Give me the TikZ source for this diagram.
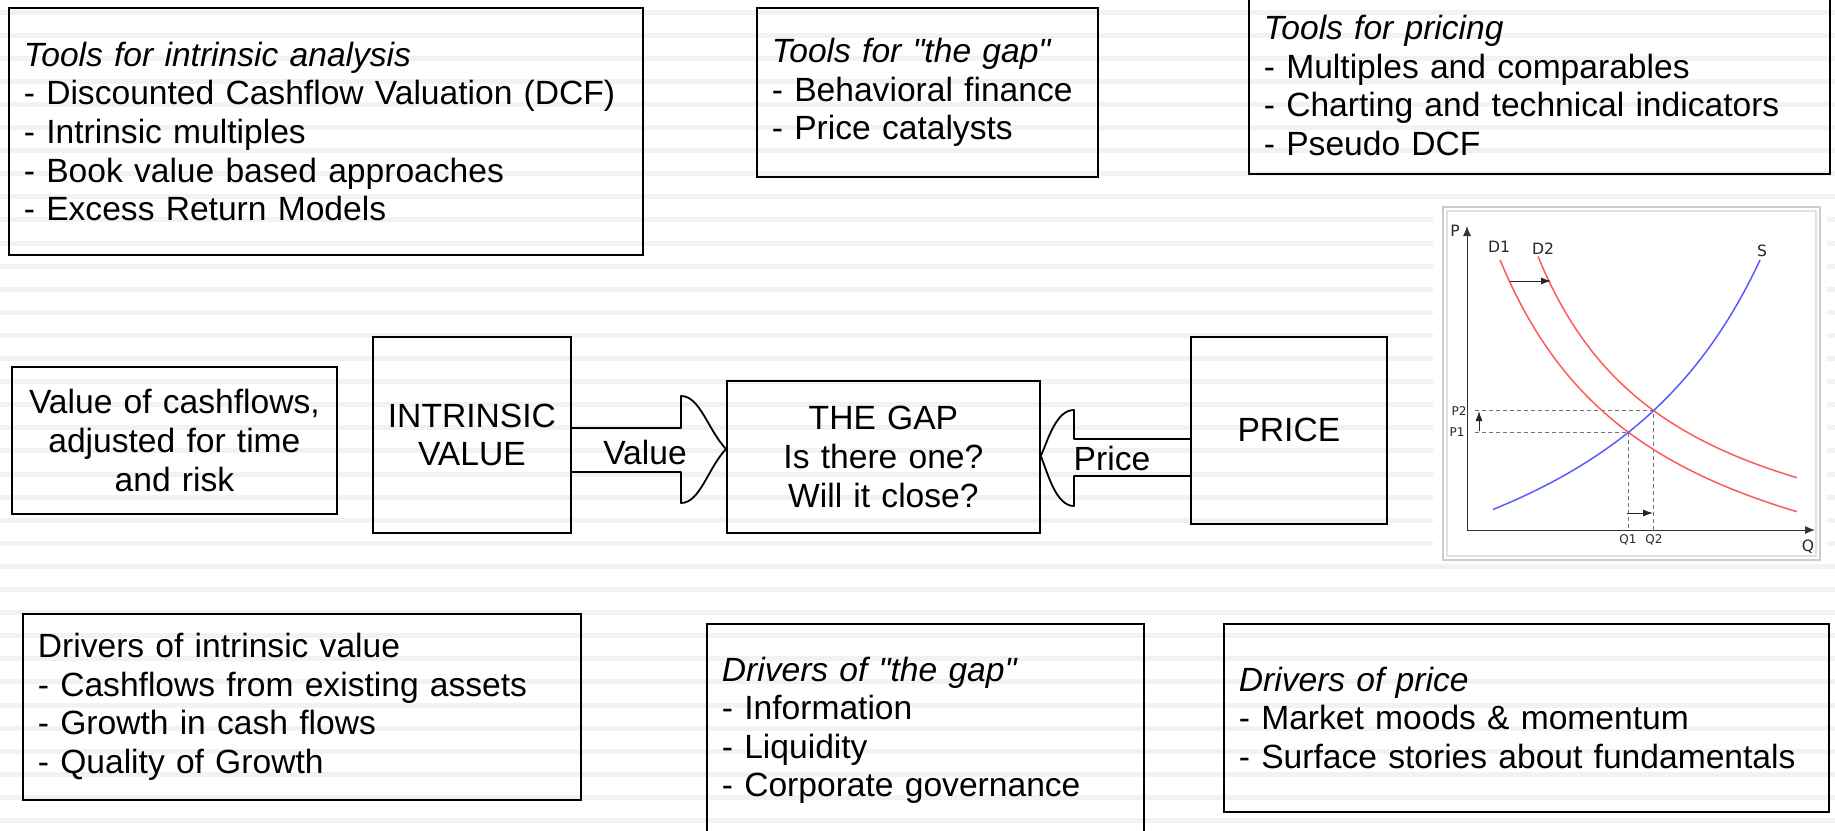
\documentclass[tikz,border=0pt]{standalone}
\usepackage{fontspec}
\setmainfont{Liberation Sans}[Ligatures=TeXOff]
\newfontfamily\chartfont{DejaVu Sans}
\usepackage{tikz}
\usetikzlibrary{arrows.meta,positioning,calc}
\definecolor{stripegray}{HTML}{F2F2F2}
\definecolor{curvered}{HTML}{FF5A5A}
\definecolor{curveblue}{HTML}{5A5AFF}
\tikzset{
  box/.style={draw=black, line width=0.9pt, anchor=north west, inner xsep=7.5pt,
    align=left, font=\fontsize{16.8}{19.3}\selectfont},
  cbox/.style={box, align=center},
  blockarrow/.style={draw=black, line width=0.9pt, line join=round},
  arrlbl/.style={font=\fontsize{16.8}{19.3}\selectfont, inner sep=0pt},
  axis/.style={draw=black!80, line width=0.5pt, -{Latex[length=5pt,width=4pt]}},
  moveflow/.style={draw=black!85, line width=0.5pt, -{Latex[length=5pt,width=3.5pt]}},
  guide/.style={draw=black!55, line width=0.4pt, dash pattern=on 2pt off 1.5pt},
  demand/.style={draw=curvered, line width=0.75pt},
  supply/.style={draw=curveblue, line width=0.75pt},
  clbl/.style={font=\chartfont\fontsize{7.8}{8}\selectfont, text=black!85, inner sep=0pt},
  slbl/.style={font=\chartfont\fontsize{6}{6}\selectfont, text=black!85, inner sep=0pt}
}

\begin{document}
\begin{tikzpicture}[x=0.5pt, y=-0.5pt]
  \useasboundingbox (0,0) rectangle (1835,830);
  \foreach \i in {0,...,35}
    \fill[stripegray] (0,{12+23.1*\i-2.5}) rectangle (1835,{12+23.1*\i+2.5});

  % tools
  \node[box, text width=302pt, minimum height=123.5pt] (toolsintr) at (8,7)
    {\textit{Tools for intrinsic analysis}\\- Discounted Cashflow Valuation (DCF)\\
     - Intrinsic multiples\\- Book value based approaches\\- Excess Return Models};
  \node[box, text width=155.5pt, minimum height=84.5pt] (toolsgap) at (756,7)
    {\textit{Tools for "the gap"}\\- Behavioral finance\\- Price catalysts};
  \node[box, text width=275.5pt, minimum height=88.5pt] (toolsprice) at (1248,-4)
    {\textit{Tools for pricing}\\- Multiples and comparables\\
     - Charting and technical indicators\\- Pseudo DCF};

  % middle row
  \node[cbox, text width=147.5pt, minimum height=73.5pt] (cashvalue) at (11,366)
    {Value of cashflows,\\adjusted for time\\and risk};
  \node[cbox, text width=84pt, minimum height=98pt] (intrinsic) at (372,336)
    {INTRINSIC\\VALUE};
  \node[cbox, text width=141.5pt, minimum height=76pt] (gap) at (726,380)
    {THE GAP\\Is there one?\\Will it close?};
  \node[cbox, text width=83pt, minimum height=93.5pt] (price) at (1190,336)
    {PRICE};

  \draw[blockarrow] (intrinsic.east |- 0,428) -- (681,428) -- (681,396)
    .. controls (700,396) and (708,430) .. (gap.west |- 0,449)
    .. controls (708,468) and (700,503) .. (681,503) -- (681,472)
    -- (intrinsic.east |- 0,472);
  \draw[blockarrow] (price.west |- 0,439) -- (1074,439) -- (1074,410)
    .. controls (1056,410) and (1048,440) .. (gap.east |- 0,456)
    .. controls (1048,474) and (1056,506) .. (1074,506) -- (1074,476)
    -- (price.west |- 0,476);
  \node[arrlbl] (valuelbl) at (645,452) {Value};
  \node[arrlbl] (pricelbl) at (1112,458) {Price};

  % drivers
  \node[box, text width=264pt, minimum height=93pt] (drvintr) at (22,613)
    {Drivers of intrinsic value\\- Cashflows from existing assets\\
     - Growth in cash flows\\- Quality of Growth};
  \node[box, text width=203.5pt, minimum height=106.5pt] (drvgap) at (706,623)
    {\textit{Drivers of "the gap"}\\- Information\\- Liquidity\\- Corporate governance};
  \node[box, text width=287.5pt, minimum height=94pt] (drvprice) at (1223,623)
    {\textit{Drivers of price}\\- Market moods \& momentum\\
     - Surface stories about fundamentals};

  % supply and demand chart
  \fill[white] (1433,200) rectangle (1827,563);
  \draw[black!20, line width=0.8pt] (1443,207) rectangle (1820,560);
  \draw[black!12, line width=0.6pt] (1447,211) rectangle (1816,556);
  \coordinate (origin) at (1467,530);
  \draw[axis] (origin) -- (1467,226);
  \draw[axis] (origin) -- (1815,530);
  \draw[guide] (1475,410) -- (1653,410) -- (1653,530);
  \draw[guide] (1475,432) -- (1628,432) -- (1628,530);
  \draw[demand] plot[domain=1500:1797, samples=60]
    (\x, {647.7-622.11/((\x-1339.6)/100)});
  \draw[demand] plot[domain=1538:1797, samples=60]
    (\x, {597.3-477.22/((\x-1398)/100)});
  \draw[supply] plot[domain=1493:1760, samples=60]
    (\x, {701.9-909.89/((1965.9-\x)/100)});
  \draw[moveflow] (1510,281) -- (1551,281);
  \draw[moveflow] (1627,513) -- (1653,513);
  \draw[moveflow] (1479,431) -- (1479,411);
  \node[clbl] (plbl) at (1455,231) {P};
  \node[clbl] (qlbl) at (1808,547) {Q};
  \node[clbl] (d1lbl) at (1499,247) {D1};
  \node[clbl] (d2lbl) at (1543,249) {D2};
  \node[clbl] (slbl) at (1762,251) {S};
  \node[slbl] (p2lbl) at (1459,411) {P2};
  \node[slbl] (p1lbl) at (1457,432) {P1};
  \node[slbl] (q1lbl) at (1628,540) {Q1};
  \node[slbl] (q2lbl) at (1654,540) {Q2};
\end{tikzpicture}
\end{document}
